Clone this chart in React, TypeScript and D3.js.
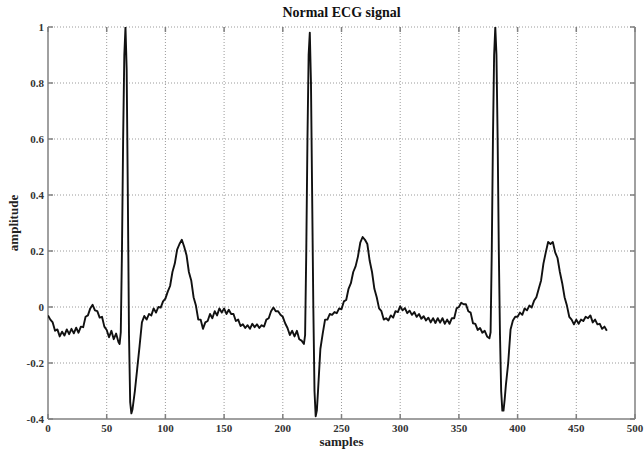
import React from "react";
import * as d3 from "d3";

const titleText = "Normal ECG signal";
const xLabel = "samples";
const yLabel = "amplitude";
const xTicks = [0, 50, 100, 150, 200, 250, 300, 350, 400, 450, 500];
const yTicks = [-0.4, -0.2, 0, 0.2, 0.4, 0.6, 0.8, 1];
const xDomain: [number, number] = [0, 500];
const yDomain: [number, number] = [-0.4, 1];

// [sample, amplitude]
const ecgPoints: [number, number][] = [
  [0,-0.03],[2,-0.045],[4,-0.055],[6,-0.085],[8,-0.08],[10,-0.105],[12,-0.088],[14,-0.102],[16,-0.08],[18,-0.097],
  [20,-0.078],[22,-0.094],[24,-0.074],[26,-0.092],[28,-0.07],[30,-0.072],[32,-0.035],[34,-0.03],[36,-0.005],[38,0.008],
  [40,-0.012],[42,-0.015],[44,-0.038],[46,-0.035],[48,-0.07],[50,-0.082],[52,-0.108],[54,-0.085],[56,-0.115],[58,-0.095],
  [60,-0.125],[61,-0.132],[62,-0.09],[63,0.2],[64,0.6],[65,0.9],[66,1.0],[67,0.85],[68,0.4],[69,-0.1],
  [70,-0.34],[71,-0.38],[72,-0.365],[74,-0.3],[76,-0.22],[78,-0.14],[80,-0.055],[82,-0.032],[84,-0.045],[86,-0.025],
  [88,-0.03],[90,-0.005],[92,-0.02],[94,0.0],[96,-0.002],[98,0.02],[100,0.03],[102,0.055],[104,0.075],[106,0.125],
  [108,0.155],[110,0.205],[112,0.225],[114,0.24],[116,0.215],[118,0.185],[120,0.125],[122,0.095],[124,0.035],[126,0.005],
  [128,-0.045],[130,-0.045],[132,-0.078],[134,-0.055],[136,-0.05],[138,-0.025],[140,-0.04],[142,-0.015],[144,-0.03],[146,-0.005],
  [148,-0.02],[150,-0.005],[152,-0.025],[154,-0.01],[156,-0.025],[158,-0.025],[160,-0.05],[162,-0.045],[164,-0.068],[166,-0.062],
  [168,-0.075],[170,-0.065],[172,-0.078],[174,-0.06],[176,-0.072],[178,-0.062],[180,-0.075],[182,-0.065],[184,-0.07],[186,-0.045],
  [188,-0.04],[190,-0.015],[192,-0.002],[194,-0.015],[196,-0.015],[198,-0.028],[200,-0.035],[202,-0.058],[204,-0.075],[206,-0.1],
  [208,-0.085],[210,-0.105],[212,-0.085],[214,-0.115],[216,-0.12],[218,-0.132],[219,-0.1],[220,0.2],[221,0.6],[222,0.9],
  [223,0.98],[224,0.8],[225,0.4],[226,0.0],[227,-0.3],[228,-0.39],[229,-0.37],[230,-0.3],[232,-0.15],[234,-0.095],
  [236,-0.045],[238,-0.045],[240,-0.025],[242,-0.028],[244,-0.018],[246,-0.022],[248,-0.005],[250,-0.008],[252,0.02],[254,0.025],
  [256,0.065],[258,0.085],[260,0.125],[262,0.145],[264,0.18],[266,0.23],[268,0.25],[270,0.24],[272,0.225],[274,0.165],
  [276,0.125],[278,0.065],[280,0.035],[282,-0.005],[284,-0.015],[286,-0.045],[288,-0.04],[290,-0.048],[292,-0.03],[294,-0.038],
  [296,-0.015],[298,-0.018],[300,0.003],[302,-0.012],[304,-0.004],[306,-0.022],[308,-0.013],[310,-0.028],[312,-0.018],[314,-0.035],
  [316,-0.025],[318,-0.042],[320,-0.033],[322,-0.048],[324,-0.038],[326,-0.055],[328,-0.04],[330,-0.057],[332,-0.04],[334,-0.056],
  [336,-0.04],[338,-0.06],[340,-0.045],[342,-0.06],[344,-0.04],[346,-0.04],[348,-0.005],[350,0.0],[352,0.015],[354,0.01],
  [356,0.01],[358,-0.015],[360,-0.02],[362,-0.058],[364,-0.06],[366,-0.082],[368,-0.075],[370,-0.092],[372,-0.085],[374,-0.105],
  [376,-0.112],[377,-0.09],[378,0.2],[379,0.6],[380,0.9],[381,1.0],[382,0.9],[383,0.6],[384,0.2],[385,-0.1],
  [386,-0.3],[387,-0.37],[388,-0.37],[389,-0.33],[390,-0.28],[392,-0.2],[394,-0.08],[396,-0.048],[398,-0.035],[400,-0.035],
  [402,-0.02],[404,-0.028],[406,-0.005],[408,-0.012],[410,0.005],[412,-0.002],[414,0.022],[416,0.035],[418,0.065],[420,0.095],
  [422,0.155],[424,0.195],[426,0.232],[428,0.225],[430,0.232],[432,0.195],[434,0.175],[436,0.125],[438,0.085],[440,0.035],
  [442,0.005],[444,-0.035],[446,-0.045],[448,-0.062],[450,-0.045],[452,-0.06],[454,-0.045],[456,-0.05],[458,-0.035],[460,-0.04],
  [462,-0.03],[464,-0.055],[466,-0.045],[468,-0.062],[470,-0.06],[472,-0.078],[474,-0.07],[476,-0.085],
];

const W = 644;
const H = 452;
const left = 48;
const right = 635;
const top = 27;
const bottom = 419;
const font = "'Liberation Serif', 'DejaVu Serif', serif";
const axisColor = "#808080";
const gridColor = "#9a9a9a";

export default function App() {
  const x = d3.scaleLinear().domain(xDomain).range([left, right]);
  const y = d3.scaleLinear().domain(yDomain).range([bottom, top]);
  const line = d3
    .line<[number, number]>()
    .x((d) => x(d[0]))
    .y((d) => y(d[1]));
  const tickLen = 5;

  return (
    <svg
      width={W}
      height={H}
      style={{ position: "absolute", left: 0, top: 0, background: "#fff" }}
    >
      <defs>
        <clipPath id="plotclip">
          <rect x={left} y={top} width={right - left} height={bottom - top} />
        </clipPath>
      </defs>
      {/* grid */}
      <g stroke={gridColor} strokeWidth={1} strokeDasharray="1,2">
        {xTicks.slice(1, -1).map((t) => (
          <line key={"gx" + t} x1={x(t)} x2={x(t)} y1={top} y2={bottom} />
        ))}
        {yTicks.slice(1).map((t) => (
          <line key={"gy" + t} x1={left} x2={right} y1={y(t)} y2={y(t)} />
        ))}
      </g>
      {/* axes */}
      <g stroke={axisColor} strokeWidth={1.5} fill="none">
        <line x1={left} x2={left} y1={top} y2={bottom} />
        <line x1={right} x2={right} y1={top} y2={bottom} />
        <line x1={left} x2={right} y1={bottom} y2={bottom} />
        {xTicks.map((t) => (
          <g key={"tx" + t}>
            <line x1={x(t)} x2={x(t)} y1={bottom} y2={bottom - tickLen} />
            <line x1={x(t)} x2={x(t)} y1={top} y2={top + tickLen} />
          </g>
        ))}
        {yTicks.map((t) => (
          <g key={"ty" + t}>
            <line x1={left} x2={left + tickLen} y1={y(t)} y2={y(t)} />
            <line x1={right} x2={right - tickLen} y1={y(t)} y2={y(t)} />
          </g>
        ))}
      </g>
      {/* signal */}
      <path
        d={line(ecgPoints) || ""}
        fill="none"
        stroke="#111"
        strokeWidth={1.9}
        strokeLinejoin="round"
        clipPath="url(#plotclip)"
      />
      {/* tick labels */}
      <g fontFamily={font} fontWeight="bold" fontSize={11} fill="#333">
        {xTicks.map((t) => (
          <text key={"lx" + t} x={x(t)} y={bottom + 13} textAnchor="middle">
            {t}
          </text>
        ))}
        {yTicks.map((t) => (
          <text key={"ly" + t} x={left - 4} y={y(t) + 4} textAnchor="end">
            {t}
          </text>
        ))}
      </g>
      <text
        x={(left + right) / 2}
        y={17}
        textAnchor="middle"
        fontFamily={font}
        fontWeight="bold"
        fontSize={14}
        fill="#111"
      >
        {titleText}
      </text>
      <text
        x={(left + right) / 2}
        y={446}
        textAnchor="middle"
        fontFamily={font}
        fontWeight="bold"
        fontSize={13}
        fill="#222"
      >
        {xLabel}
      </text>
      <text
        transform={`translate(18, ${(top + bottom) / 2}) rotate(-90)`}
        textAnchor="middle"
        fontFamily={font}
        fontWeight="bold"
        fontSize={13}
        fill="#222"
      >
        {yLabel}
      </text>
    </svg>
  );
}
